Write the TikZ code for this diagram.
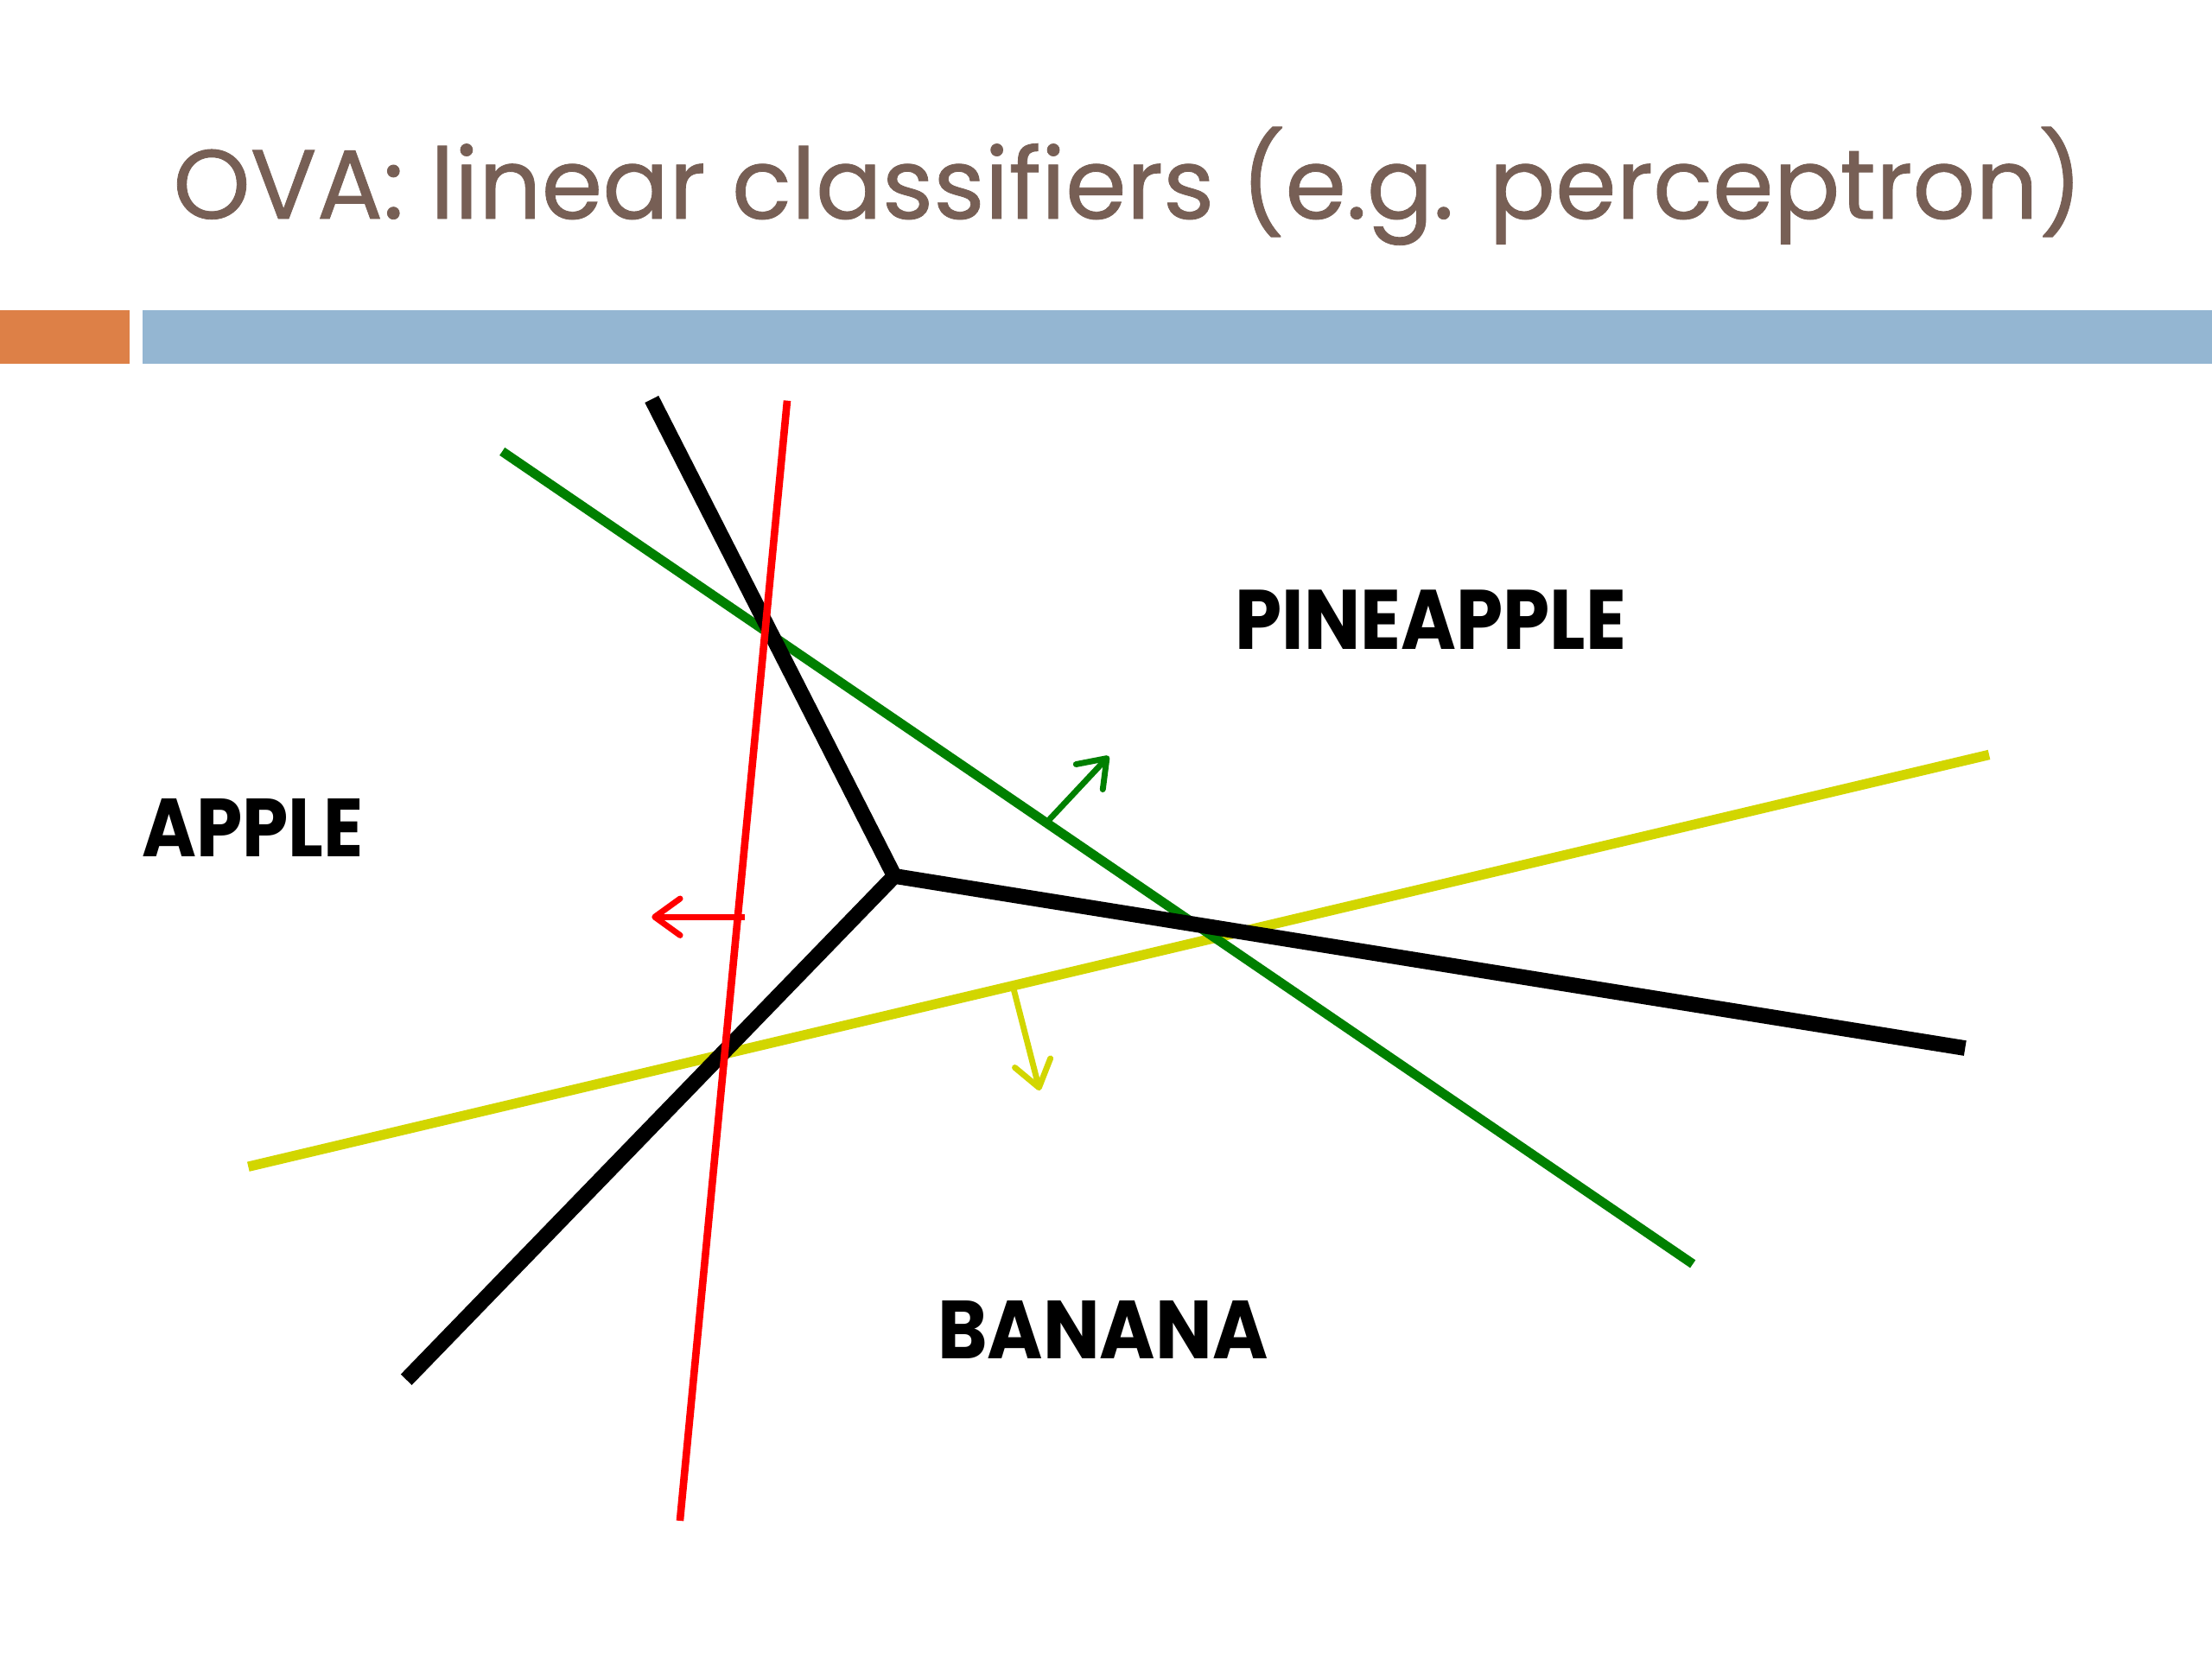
\documentclass[tikz,border=0pt]{standalone}
\usepackage{fontspec}
\setmainfont{Poppins}
\newfontfamily\titlefont{Poppins}[FakeBold=0.7]
\usetikzlibrary{arrows.meta}
\definecolor{titlecol}{RGB}{119,95,85}
\definecolor{barblue}{RGB}{148,182,210}
\definecolor{barorange}{RGB}{221,128,71}
\definecolor{linered}{RGB}{255,0,0}
\definecolor{linegreen}{RGB}{0,128,0}
\definecolor{lineyellow}{RGB}{210,214,0}
\tikzset{
  boundary/.style={line width=3.1pt, black, line join=miter},
  redline/.style={line width=1.5pt, linered},
  greenline/.style={line width=1.9pt, linegreen},
  yellowline/.style={line width=2.0pt, lineyellow},
  normalarrow/.style={line width=1.2pt, -{Straight Barb[length=1.8mm,width=2.6mm,round]}},
  classlabel/.style={inner sep=0pt, anchor=base west, font=\bfseries},
}
\begin{document}
\begin{tikzpicture}[x=0.01cm,y=-0.01cm]
\useasboundingbox (0,0) rectangle (1568,1176);
% title
\node[inner sep=0pt, anchor=base west, text=titlecol, font=\titlefont] (title) at (122,155)
  {\resizebox{13.53cm}{!}{OVA: linear classifiers (e.g. perceptron)}};
% bars
\fill[barorange] (0,220) rectangle (92,258);
\fill[barblue] (101,220) rectangle (1568,258);
% coordinates
\coordinate (y1) at (176,827);
\coordinate (y2) at (1410,535);
\coordinate (g1) at (356,320);
\coordinate (g2) at (1200,896);
\coordinate (r1) at (558,284);
\coordinate (r2) at (482,1078);
\coordinate (bt) at (462,283);
\coordinate (bc) at (634,621);
\coordinate (bl) at (288,978);
\coordinate (br) at (1393,743);
\coordinate (ya) at (718,699);
\coordinate (yb) at (737,773);
\coordinate (ga) at (741,584);
\coordinate (gb) at (786,536);
\coordinate (ra) at (528,650);
\coordinate (rb) at (462,650);
% classifiers
\draw[yellowline] (y1) -- (y2);
\draw[greenline] (g1) -- (g2);
\draw[boundary] (bt) -- (bc) -- (br);
\draw[boundary] (bc) -- (bl);
\draw[redline] (r1) -- (r2);
% normals
\draw[normalarrow, lineyellow] (ya) -- (yb);
\draw[normalarrow, linegreen] (ga) -- (gb);
\draw[normalarrow, linered] (ra) -- (rb);
% labels
\node[classlabel] (pine) at (875,460) {\resizebox{2.77cm}{0.42cm}{PINEAPPLE}};
\node[classlabel] (apple) at (100,607) {\resizebox{1.57cm}{0.41cm}{APPLE}};
\node[classlabel] (banana) at (664,963) {\resizebox{2.34cm}{0.41cm}{BANANA}};
\end{tikzpicture}
\end{document}
